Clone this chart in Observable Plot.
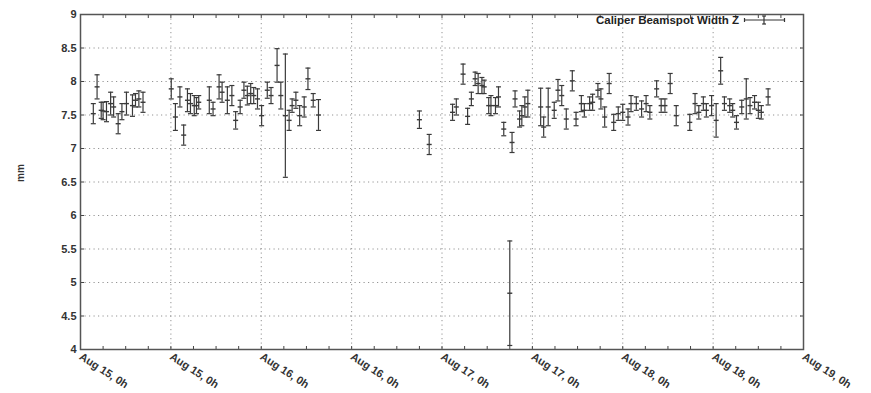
<!DOCTYPE html>
<html><head><meta charset="utf-8">
<script src="https://cdn.jsdelivr.net/npm/d3@7"></script>
<script src="https://cdn.jsdelivr.net/npm/@observablehq/plot@0.6"></script>
<style>
body{margin:0;background:#fff;font-family:"Liberation Sans",Arial,sans-serif}
#wrap{position:relative;width:871px;height:393px}
#legend{position:absolute;right:84px;top:14px;display:flex;align-items:center;font:bold 11.5px "Liberation Sans",Arial,sans-serif;color:#222}
#legend svg{margin-left:4px}
</style></head><body><div id="wrap"></div>
<script>
// Hours since Aug 15, 0h
const startDate = "2010-08-15T00:00:00Z";
const hours = [
  1.7, 2.2, 2.75, 3.0, 3.45, 4.0, 4.4, 5.0, 5.5, 6.1, 6.9, 7.3, 7.75, 8.3,
  12.05, 12.6, 13.2, 13.7, 14.2, 14.6, 15.1, 15.4, 15.7, 17.1, 17.6, 18.4, 18.8, 19.5,
  20.1, 20.6, 21.2, 21.7, 22.15, 22.6, 23.0, 23.5, 24.05, 24.8, 25.3, 26.1, 26.6, 27.2,
  27.7, 28.1, 28.6, 29.1, 29.7, 30.2, 30.9, 31.6,
  45.0, 46.3, 49.4, 49.9, 50.8, 51.4, 51.9, 52.4, 52.8, 53.3, 53.6, 54.2, 54.5, 55.1,
  55.5, 56.2, 57.0, 57.3, 57.7, 58.3, 58.6, 59.0, 59.4,
  61.1, 61.5, 62.1, 62.9, 63.4, 63.9, 64.5, 65.3, 65.8, 66.5, 66.9, 67.6, 68.0, 68.7,
  69.1, 69.6, 70.2, 70.8, 71.4, 72.0, 72.7, 73.1, 73.8, 74.5, 75.1, 75.6, 76.5, 77.1,
  77.6, 78.3, 79.1, 80.9, 81.6, 82.1, 82.7, 83.1, 83.8, 84.4, 85.0, 85.5, 86.2, 86.6,
  87.1, 87.8, 88.4, 88.9, 89.5, 90.0, 90.4, 91.3
];
const widthZ = [
  7.52, 7.92, 7.57, 7.56, 7.55, 7.67, 7.62, 7.37, 7.55, 7.67, 7.64, 7.72, 7.74, 7.69,
  7.89, 7.47, 7.77, 7.20, 7.72, 7.67, 7.64, 7.64, 7.69, 7.72, 7.59, 7.92, 7.84, 7.72,
  7.79, 7.42, 7.62, 7.87, 7.79, 7.82, 7.79, 7.74, 7.49, 7.87, 7.79, 8.24, 7.79, 7.49,
  7.42, 7.64, 7.72, 7.49, 7.62, 8.04, 7.72, 7.50,
  7.43, 7.06, 7.54, 7.62, 8.11, 7.48, 7.74, 8.04, 7.97, 7.94, 7.92, 7.64, 7.64, 7.64,
  7.77, 7.29, 4.84, 7.09, 7.74, 7.44, 7.49, 7.62, 7.67,
  7.62, 7.32, 7.62, 7.57, 7.87, 7.79, 7.44, 8.01, 7.44, 7.67, 7.57, 7.67, 7.69, 7.87,
  7.74, 7.47, 7.97, 7.39, 7.52, 7.54, 7.47, 7.67, 7.67, 7.59, 7.67, 7.54, 7.89, 7.64,
  7.64, 7.97, 7.49, 7.39, 7.67, 7.54, 7.67, 7.57, 7.64, 7.42, 8.16, 7.67, 7.64, 7.57,
  7.39, 7.62, 7.74, 7.64, 7.69, 7.57, 7.54, 7.77
];
const errZ = [
  0.15, 0.18, 0.12, 0.13, 0.15, 0.17, 0.15, 0.15, 0.12, 0.17, 0.16, 0.10, 0.12, 0.15,
  0.15, 0.20, 0.15, 0.15, 0.17, 0.15, 0.15, 0.12, 0.10, 0.20, 0.10, 0.18, 0.15, 0.20,
  0.15, 0.13, 0.10, 0.12, 0.14, 0.15, 0.12, 0.15, 0.15, 0.12, 0.12, 0.25, 0.20, 0.92,
  0.15, 0.10, 0.12, 0.15, 0.15, 0.16, 0.10, 0.23,
  0.13, 0.15, 0.12, 0.12, 0.15, 0.12, 0.10, 0.10, 0.15, 0.12, 0.10, 0.12, 0.15, 0.12,
  0.15, 0.10, 0.78, 0.15, 0.12, 0.12, 0.15, 0.15, 0.20,
  0.28, 0.15, 0.28, 0.12, 0.16, 0.15, 0.15, 0.15, 0.10, 0.12, 0.10, 0.10, 0.12, 0.10,
  0.15, 0.15, 0.15, 0.12, 0.10, 0.12, 0.12, 0.12, 0.10, 0.12, 0.12, 0.10, 0.12, 0.10,
  0.10, 0.15, 0.15, 0.12, 0.15, 0.10, 0.10, 0.10, 0.15, 0.25, 0.20, 0.10, 0.10, 0.10,
  0.10, 0.10, 0.30, 0.12, 0.10, 0.12, 0.10, 0.12
];
const xTickLabels = ["Aug 15, 0h","Aug 15, 0h","Aug 16, 0h","Aug 16, 0h","Aug 17, 0h","Aug 17, 0h","Aug 18, 0h","Aug 18, 0h","Aug 19, 0h"];
const yTicks = [4, 4.5, 5, 5.5, 6, 6.5, 7, 7.5, 8, 8.5, 9];
const yLabel = "mm";
const legendLabel = "Caliper Beamspot Width Z";

const t0 = new Date(startDate).getTime();
const H = 3600e3;
const data = hours.map((h, i) => ({t: new Date(t0 + h * H), v: widthZ[i], e: errZ[i]}));
const majorTicks = xTickLabels.map((_, i) => new Date(t0 + i * 12 * H));
const minorTicks = d3.range(0, 97, 3).map(h => new Date(t0 + h * H));
const capHalf = 20 * 60e3;
const noText = () => "";

const col = "#3a3a3a";
const chart = Plot.plot({
  width: 871, height: 393,
  marginLeft: 80, marginRight: 68, marginTop: 14, marginBottom: 44,
  style: {fontFamily: "'Liberation Sans', Arial, sans-serif", fontSize: "11px", fontWeight: "bold", color: "#333"},
  x: {type: "utc", domain: [majorTicks[0], majorTicks[majorTicks.length - 1]]},
  y: {domain: [4, 9]},
  marks: [
    Plot.gridY(yTicks, {stroke: "#888", strokeOpacity: 0.9, strokeDasharray: "1.2,3.3"}),
    Plot.gridX(majorTicks, {stroke: "#888", strokeOpacity: 0.9, strokeDasharray: "1.2,3.3"}),
    Plot.axisX(majorTicks, {anchor: "bottom", tickSize: 0, tickPadding: 6, tickRotate: 33,
      tickFormat: (d, i) => xTickLabels[i], label: null, fill: "#333"}),
    Plot.axisX(minorTicks, {anchor: "bottom", tickSize: -3, tickFormat: noText, label: null, stroke: "#444"}),
    Plot.axisX(minorTicks, {anchor: "top", tickSize: -3, tickFormat: noText, label: null, stroke: "#444"}),
    Plot.axisY(yTicks, {anchor: "left", tickSize: -4, tickPadding: 8, tickFormat: d => String(d), label: null, stroke: "#444", fill: "#333"}),
    Plot.axisY(yTicks, {anchor: "right", tickSize: -4, tickFormat: noText, label: null, stroke: "#444"}),
    Plot.text([yLabel], {frameAnchor: "left", dx: -60, rotate: -90, fill: "#333", fontSize: 10}),
    Plot.ruleX(data, {x: "t", y1: d => d.v - d.e, y2: d => d.v + d.e, stroke: col, strokeWidth: 1.2}),
    Plot.link(data, {x1: d => new Date(+d.t - capHalf), x2: d => new Date(+d.t + capHalf), y1: d => d.v + d.e, y2: d => d.v + d.e, stroke: col, strokeWidth: 1.2}),
    Plot.link(data, {x1: d => new Date(+d.t - capHalf), x2: d => new Date(+d.t + capHalf), y1: d => d.v - d.e, y2: d => d.v - d.e, stroke: col, strokeWidth: 1.2}),
    Plot.link(data, {x1: d => new Date(+d.t - capHalf), x2: d => new Date(+d.t + capHalf), y1: "v", y2: "v", stroke: col, strokeWidth: 1.4}),
    Plot.frame({stroke: "#555", strokeWidth: 1.5})
  ]
});
const wrap = document.getElementById("wrap");
wrap.appendChild(chart);
const leg = document.createElement("div");
leg.id = "legend";
leg.innerHTML = `<span>${legendLabel}</span><svg width="44" height="12"><g stroke="#333" stroke-width="1.2"><line x1="1" y1="6" x2="42" y2="6"/><line x1="1.5" y1="4" x2="1.5" y2="8"/><line x1="41.5" y1="4" x2="41.5" y2="8"/><line x1="21" y1="2" x2="21" y2="10"/><line x1="19" y1="2" x2="23" y2="2"/><line x1="19" y1="10" x2="23" y2="10"/></g></svg>`;
wrap.appendChild(leg);
</script></body></html>
